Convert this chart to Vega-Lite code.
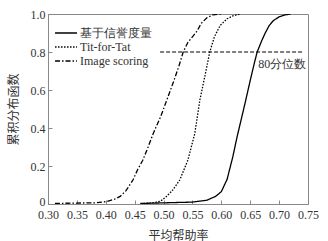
{
  "$schema": "https://vega.github.io/schema/vega-lite/v6.json",
  "width": 260,
  "height": 190,
  "padding": {"left": 48, "top": 14, "right": 20, "bottom": 37},
  "autosize": {"type": "none"},
  "background": "white",
  "config": {
    "view": {"stroke": "#888", "strokeWidth": 1},
    "font": "Liberation Serif",
    "axis": {
      "grid": false,
      "domainColor": "#888",
      "tickColor": "#888",
      "labelColor": "#333",
      "titleColor": "#333",
      "labelFont": "Liberation Serif",
      "titleFont": "Noto Sans CJK SC",
      "labelFontSize": 12,
      "titleFontSize": 12,
      "titleFontWeight": "normal",
      "labelOverlap": false,
      "labelBound": false
    }
  },
  "datasets": {
    "curves": [
      {"x": 0.312, "y": 0.003, "s": "Image scoring"},
      {"x": 0.35, "y": 0.005, "s": "Image scoring"},
      {"x": 0.38, "y": 0.006, "s": "Image scoring"},
      {"x": 0.40, "y": 0.012, "s": "Image scoring"},
      {"x": 0.415, "y": 0.025, "s": "Image scoring"},
      {"x": 0.425, "y": 0.04, "s": "Image scoring"},
      {"x": 0.435, "y": 0.07, "s": "Image scoring"},
      {"x": 0.447, "y": 0.126, "s": "Image scoring"},
      {"x": 0.455, "y": 0.18, "s": "Image scoring"},
      {"x": 0.464, "y": 0.23, "s": "Image scoring"},
      {"x": 0.472, "y": 0.29, "s": "Image scoring"},
      {"x": 0.482, "y": 0.37, "s": "Image scoring"},
      {"x": 0.495, "y": 0.46, "s": "Image scoring"},
      {"x": 0.506, "y": 0.55, "s": "Image scoring"},
      {"x": 0.518, "y": 0.65, "s": "Image scoring"},
      {"x": 0.527, "y": 0.73, "s": "Image scoring"},
      {"x": 0.534, "y": 0.80, "s": "Image scoring"},
      {"x": 0.542, "y": 0.85, "s": "Image scoring"},
      {"x": 0.550, "y": 0.88, "s": "Image scoring"},
      {"x": 0.558, "y": 0.91, "s": "Image scoring"},
      {"x": 0.565, "y": 0.95, "s": "Image scoring"},
      {"x": 0.575, "y": 0.98, "s": "Image scoring"},
      {"x": 0.585, "y": 0.995, "s": "Image scoring"},
      {"x": 0.60, "y": 1.0, "s": "Image scoring"},
      {"x": 0.46, "y": 0.002, "s": "Tit-for-Tat"},
      {"x": 0.48, "y": 0.005, "s": "Tit-for-Tat"},
      {"x": 0.495, "y": 0.015, "s": "Tit-for-Tat"},
      {"x": 0.505, "y": 0.04, "s": "Tit-for-Tat"},
      {"x": 0.515, "y": 0.07, "s": "Tit-for-Tat"},
      {"x": 0.528, "y": 0.126, "s": "Tit-for-Tat"},
      {"x": 0.542, "y": 0.23, "s": "Tit-for-Tat"},
      {"x": 0.554, "y": 0.37, "s": "Tit-for-Tat"},
      {"x": 0.563, "y": 0.55, "s": "Tit-for-Tat"},
      {"x": 0.572, "y": 0.68, "s": "Tit-for-Tat"},
      {"x": 0.580, "y": 0.80, "s": "Tit-for-Tat"},
      {"x": 0.588, "y": 0.88, "s": "Tit-for-Tat"},
      {"x": 0.598, "y": 0.94, "s": "Tit-for-Tat"},
      {"x": 0.61, "y": 0.975, "s": "Tit-for-Tat"},
      {"x": 0.62, "y": 0.99, "s": "Tit-for-Tat"},
      {"x": 0.632, "y": 1.0, "s": "Tit-for-Tat"},
      {"x": 0.46, "y": 0.003, "s": "基于信誉度量"},
      {"x": 0.50, "y": 0.006, "s": "基于信誉度量"},
      {"x": 0.55, "y": 0.01, "s": "基于信誉度量"},
      {"x": 0.575, "y": 0.02, "s": "基于信誉度量"},
      {"x": 0.59, "y": 0.04, "s": "基于信誉度量"},
      {"x": 0.60, "y": 0.065, "s": "基于信誉度量"},
      {"x": 0.61, "y": 0.13, "s": "基于信誉度量"},
      {"x": 0.62, "y": 0.25, "s": "基于信誉度量"},
      {"x": 0.627, "y": 0.35, "s": "基于信誉度量"},
      {"x": 0.634, "y": 0.44, "s": "基于信誉度量"},
      {"x": 0.641, "y": 0.53, "s": "基于信誉度量"},
      {"x": 0.650, "y": 0.65, "s": "基于信誉度量"},
      {"x": 0.657, "y": 0.74, "s": "基于信誉度量"},
      {"x": 0.662, "y": 0.80, "s": "基于信誉度量"},
      {"x": 0.670, "y": 0.86, "s": "基于信誉度量"},
      {"x": 0.676, "y": 0.90, "s": "基于信誉度量"},
      {"x": 0.683, "y": 0.94, "s": "基于信誉度量"},
      {"x": 0.690, "y": 0.965, "s": "基于信誉度量"},
      {"x": 0.70, "y": 0.985, "s": "基于信誉度量"},
      {"x": 0.71, "y": 0.995, "s": "基于信誉度量"},
      {"x": 0.72, "y": 1.0, "s": "基于信誉度量"}
    ],
    "quant": [
      {"x": 0.494, "y": 0.8},
      {"x": 0.741, "y": 0.8}
    ],
    "label": [
      {"x": 0.664, "y": 0.735, "t": "80分位数"}
    ]
  },
  "encoding": {
    "x": {
      "field": "x", "type": "quantitative",
      "scale": {"domain": [0.3, 0.75], "nice": false, "zero": false},
      "axis": {
        "title": "平均帮助率",
        "values": [0.3, 0.35, 0.4, 0.45, 0.5, 0.55, 0.6, 0.65, 0.7, 0.75],
        "format": ".2f",
        "tickSize": -4,
        "labelPadding": 9,
        "titlePadding": 10,
        "labelFlush": false,
        "labelOverlap": false,
        "labelBound": false
      }
    },
    "y": {
      "field": "y", "type": "quantitative",
      "scale": {"domain": [0, 1], "nice": false},
      "axis": {
        "title": "累积分布函数",
        "values": [0, 0.2, 0.4, 0.6, 0.8, 1.0],
        "labelExpr": "datum.value == 0 ? '0' : format(datum.value, '.1f')",
        "labelOffset": {"condition": {"test": "datum.value == 0", "value": -3}, "value": 0},
        "tickSize": -4,
        "labelPadding": 7,
        "titlePadding": 10,
        "labelFlush": false,
        "labelOverlap": false,
        "labelBound": false
      }
    }
  },
  "layer": [
    {
      "data": {"name": "curves"},
      "mark": {"type": "line", "color": "black", "strokeWidth": 1.3, "clip": true},
      "encoding": {
        "strokeDash": {
          "field": "s", "type": "nominal",
          "scale": {
            "domain": ["基于信誉度量", "Tit-for-Tat", "Image scoring"],
            "range": [[1, 0], [1.5, 1.5], [5, 2, 1.5, 2]]
          },
          "legend": {
            "title": null,
            "orient": "none",
            "legendX": 6,
            "legendY": 12,
            "symbolType": "stroke",
            "symbolSize": 480,
            "symbolStrokeColor": "black",
            "symbolStrokeWidth": 1.3,
            "labelFont": "Liberation Serif",
            "labelFontSize": 12,
            "labelColor": "#333",
            "rowPadding": 0,
            "clipHeight": 14,
            "labelOffset": 2
          }
        },
        "detail": {"field": "s"},
        "order": {"field": "x", "type": "quantitative"}
      }
    },
    {
      "data": {"name": "quant"},
      "mark": {"type": "line", "color": "black", "strokeWidth": 1, "strokeDash": [4, 2]},
      "encoding": {}
    },
    {
      "data": {"name": "label"},
      "mark": {"type": "text", "align": "left", "baseline": "middle", "fontSize": 12, "color": "#333", "font": "Liberation Serif"},
      "encoding": {
        "text": {"field": "t"}
      }
    }
  ]
}
